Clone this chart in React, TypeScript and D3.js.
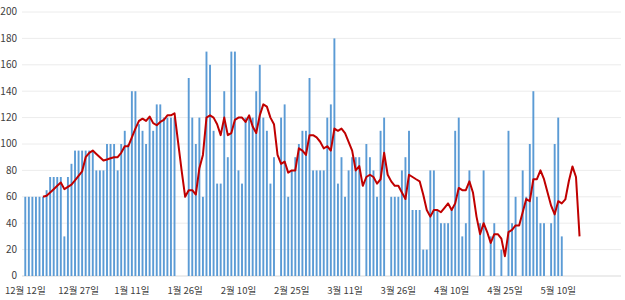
import React from "react";
import * as d3 from "d3";

// Daily counts from 2019-12-12 (null = no bar that day)
const barValues: (number | null)[] = [
  60, 60, 60, 60, 60, 60, 65, 75, 75, 75, 75, 30, 75, 85, 95, 95, 95, 95, 95, 95,
  80, 80, 80, 100, 100, 100, 80, 100, 110, 100, 140, 140, 115, 110, 100, 120, 110, 130, 130, 120,
  120, 120, 120, null, null, null, 150, 120, 100, 120, 60, 170, 160, 110, 70, 70, 140, 90, 170, 170,
  80, 70, 120, 120, 120, 140, 160, 120, 110, 70, 90, null, 120, 130, 60, 80, 90, 100, 110, 110,
  150, 80, 80, 80, 80, 120, 130, 180, 70, 90, 60, 80, 90, 90, 90, null, 100, 90, 80, 60,
  110, 120, null, 60, 60, 60, 80, 90, 110, 50, 50, 50, 20, 20, 80, 80, 50, 40, 40, 40,
  50, 110, 120, 30, 40, 80, null, null, 40, 80, null, 30, 40, null, 20, null, 110, 40, 60, null,
  80, 60, 100, 140, 60, 40, 40, null, 40, 100, 120, 30,
];

// Moving-average line (starts at the 6th day)
const lineValues: (number | null)[] = [
  null, null, null, null, null,
  60, 60.8, 63.3, 65.8, 68.3, 70.8, 65.8, 67.5, 69.2, 72.5, 75.8, 79.2, 90, 93.3, 95,
  92.5, 90, 87.5, 88.3, 89.2, 90, 90, 93.3, 98.3, 98.3, 105, 111.7, 117.5, 119.2, 117.5, 120.8, 115.8, 114.2, 116.7, 118.3,
  121.7, 121.7, 123.3, 101.7, 80, 60, 65, 65, 61.7, 81.7, 91.7, 120, 121.7, 120, 115, 106.7, 120, 106.7, 108.3, 118.3,
  120, 120, 116.7, 121.7, 113.3, 108.3, 121.7, 130, 128.3, 120, 115, 91.7, 85, 86.7, 78.3, 80, 80, 96.7, 95, 91.7,
  106.7, 106.7, 105, 101.7, 96.7, 98.3, 95, 111.7, 110, 111.7, 108.3, 101.7, 95, 80, 83.3, 68.3, 75, 76.7, 75, 70,
  73.3, 93.3, 76.7, 71.7, 68.3, 68.3, 63.3, 58.3, 76.7, 75, 73.3, 71.7, 61.7, 50, 45, 50, 50, 48.3, 51.7, 55,
  50, 55, 66.7, 65, 65, 71.7, 63.3, 45, 31.7, 40, 33.3, 25, 31.7, 31.7, 28.3, 15, 33.3, 35, 38.3, 38.3,
  48.3, 58.3, 56.7, 73.3, 73.3, 80, 73.3, 63.3, 53.3, 46.7, 56.7, 55, 58, 72, 83, 75, 30,
];

const yTicks = [0, 20, 40, 60, 80, 100, 120, 140, 160, 180, 200];
const xTickLabels = [
  "12월 12일", "12월 27일", "1월 11일", "1월 26일", "2월 10일", "2월 25일",
  "3월 11일", "3월 26일", "4월 10일", "4월 25일", "5월 10일",
];
const xTickEvery = 15;
const dayCount = 168;

const W = 625;
const H = 300;
const left = 23.5;
const right = 620.4;
const top = 12;
const bottom = 276;
const FONT = "'Noto Sans CJK KR', 'Noto Sans', sans-serif";

export default function App() {
  const idx = d3.range(dayCount);
  const x = d3.scaleBand<number>().domain(idx).range([left, right]).padding(0);
  const y = d3.scaleLinear().domain([0, 200]).range([bottom, top]);
  const bw = 1.9;

  const line = d3
    .line<number | null>()
    .defined((d) => d !== null)
    .x((_, i) => (x(i) as number) + x.bandwidth() / 2)
    .y((d) => y(d as number));

  return (
    <svg
      width={W}
      height={H}
      style={{ position: "absolute", left: 0, top: 0, background: "#fff" }}
      fontFamily={FONT}
    >
      {yTicks.map((t) => (
        <g key={t}>
          <line x1={22} x2={621} y1={y(t)} y2={y(t)} stroke={t === 0 ? "#d9d9d9" : "#ececec"} strokeWidth={1} />
          <text x={17} y={y(t)} dy="0.33em" textAnchor="end" fontSize={10} fill="#404040">
            {t}
          </text>
        </g>
      ))}
      {barValues.map((v, i) =>
        v === null ? null : (
          <rect
            key={i}
            x={(x(i) as number) + x.bandwidth() / 2 - bw / 2}
            y={y(v)}
            width={bw}
            height={y(0) - y(v)}
            fill="#5b9bd5"
          />
        )
      )}
      <path d={line(lineValues) || ""} fill="none" stroke="#c00000" strokeWidth={2} strokeLinejoin="round" />
      {xTickLabels.map((lab, k) => (
        <text
          key={lab}
          x={(x(k * xTickEvery) as number) + x.bandwidth() / 2}
          y={293.5}
          textAnchor="middle"
          fontSize={9.5}
          fill="#404040"
        >
          {lab}
        </text>
      ))}
    </svg>
  );
}
